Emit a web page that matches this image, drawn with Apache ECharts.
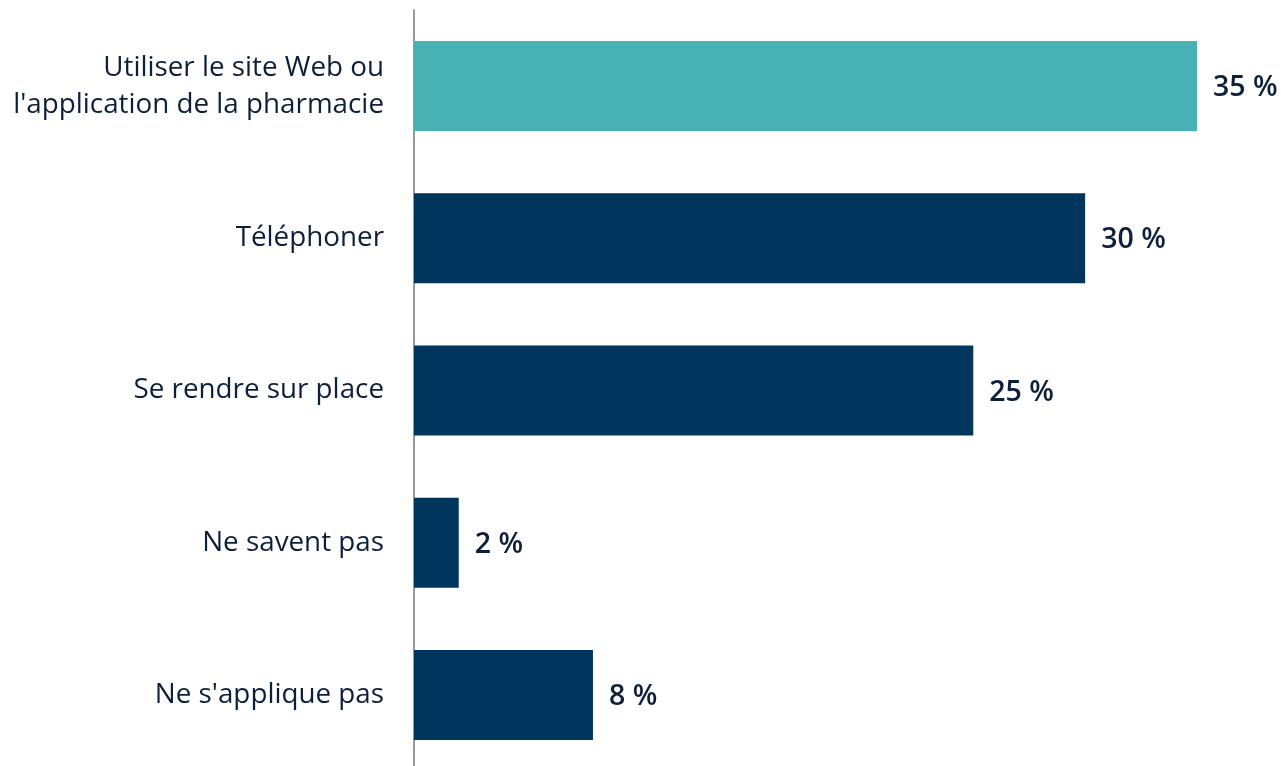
<!DOCTYPE html>
<html><head><meta charset="utf-8">
<script src="https://cdn.jsdelivr.net/npm/echarts@6/dist/echarts.min.js"></script>
<style>html,body{margin:0;padding:0;background:#fff;overflow:hidden;width:1281px;height:766px}#c{width:1281px;height:780px}</style>
</head><body><div id="c"></div>
<script>
const categories = ["Utiliser le site Web ou\nl'application de la pharmacie", "Téléphoner", "Se rendre sur place", "Ne savent pas", "Ne s'applique pas"];
const values = [35, 30, 25, 2, 8];
const highlightIndex = 0;

const chart = echarts.init(document.getElementById('c'));
chart.setOption({
  animation: false,
  grid: { left: 414, top: 10, width: 783, height: 761 },
  xAxis: { type: 'value', min: 0, max: 35, show: false },
  yAxis: {
    type: 'category', data: categories, inverse: true,
    axisLine: { show: true, lineStyle: { color: '#9a9a9a', width: 2 } },
    axisTick: { show: false },
    axisLabel: { margin: 30, color: '#0e1f3a', fontSize: 27.8, fontFamily: 'Open Sans', lineHeight: 37, align: 'right' }
  },
  series: [{
    type: 'bar', barWidth: 90,
    data: values.map((v, i) => ({ value: v, itemStyle: { color: i === highlightIndex ? '#47b1b3' : '#00365d' } })),
    label: { show: true, position: 'right', distance: 16, offset: [0, 2], formatter: p => p.value + ' %', color: '#0e1f3a', fontSize: 28.5, fontWeight: 600, fontFamily: 'Open Sans' }
  }]
});
</script></body></html>
